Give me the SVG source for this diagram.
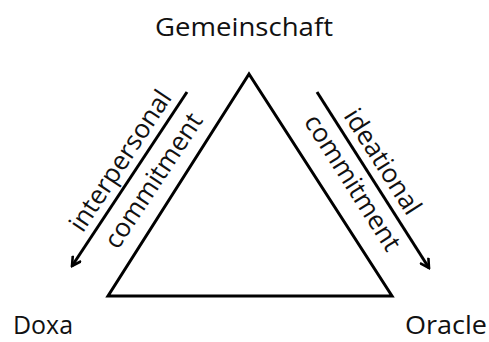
<svg xmlns="http://www.w3.org/2000/svg" width="489" height="342" viewBox="0 0 489 342">
<style>
text{font-family:"Open Sans","Noto Sans",sans-serif;font-size:26px;fill:#111}
.ln{stroke:#000;stroke-width:3;fill:none}
</style>
<defs>
<marker id="ah" viewBox="0 0 12 12" refX="10" refY="6" markerWidth="12" markerHeight="12" markerUnits="userSpaceOnUse" orient="auto">
<path d="M1,1 L10,6 L1,11" fill="none" stroke="#000" stroke-width="2.6"/>
</marker>
</defs>
<rect width="489" height="342" fill="#fff"/>
<g id="triangle"><polygon class="ln" points="249,74 108,296 392,296"/></g>
<g id="gemeinschaft"><text x="155" y="36" textLength="178" lengthAdjust="spacingAndGlyphs">Gemeinschaft</text></g>
<g id="doxa"><text x="13" y="334" textLength="60" lengthAdjust="spacingAndGlyphs">Doxa</text></g>
<g id="oracle"><text x="405" y="334" textLength="82" lengthAdjust="spacingAndGlyphs">Oracle</text></g>
<g id="connectors">
<line class="ln" x1="187" y1="92" x2="72" y2="266" marker-end="url(#ah)"/>
<line class="ln" x1="317" y1="92" x2="429" y2="268" marker-end="url(#ah)"/>
</g>
<g id="labels">
<text transform="translate(121,161) rotate(-56.5)" text-anchor="middle" dy="8">interpersonal</text>
<text transform="translate(154,181) rotate(-56.5)" text-anchor="middle" dy="8">commitment</text>
<text transform="translate(382,162) rotate(57.5)" text-anchor="middle" dy="8">ideational</text>
<text transform="translate(352,183) rotate(57.5)" text-anchor="middle" dy="8">commitment</text>
</g>
</svg>
